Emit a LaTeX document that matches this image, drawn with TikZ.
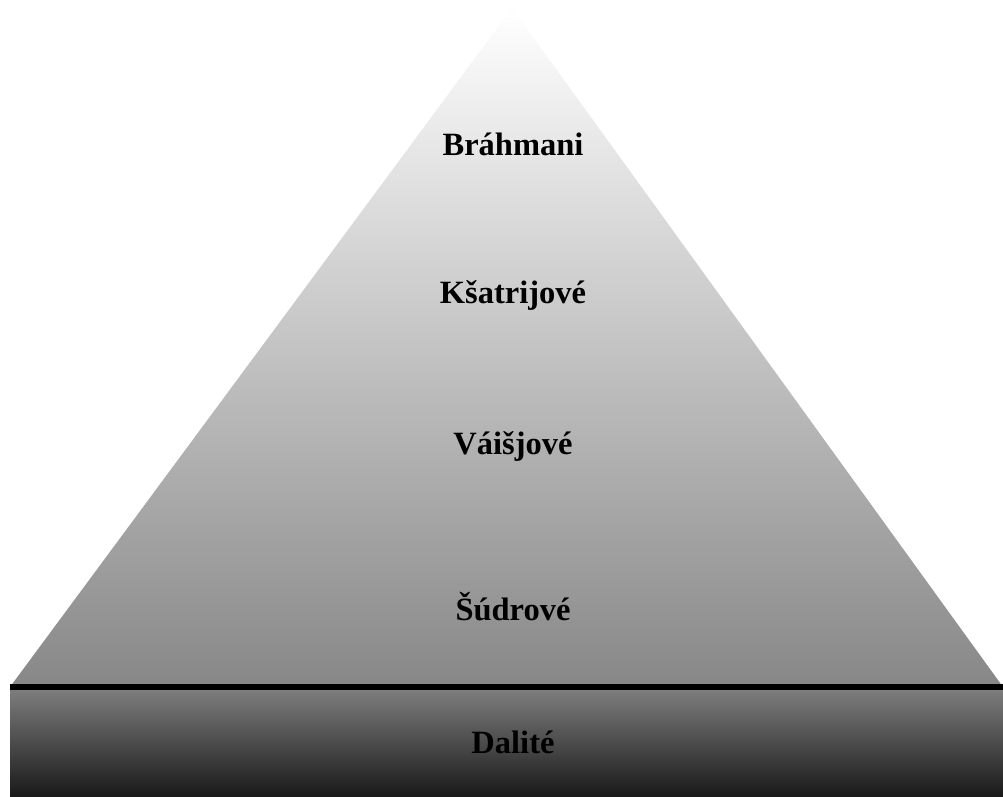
\documentclass[tikz,border=0pt]{standalone}
\usepackage{fontspec}
\setmainfont{Liberation Serif}
\begin{document}
\begin{tikzpicture}[x=1pt,y=-1pt,
  caste/.style={font=\fontsize{32.5}{38}\selectfont\bfseries, text=black, inner sep=0pt}]
\useasboundingbox (0,0) rectangle (1003,796);
% pyramid of the four varnas
\shade[top color=white, bottom color=black!47] (512,8) -- (1003,687) -- (10,687) -- cycle;
% base block
\shade[top color=black!50, bottom color=black!90] (10,687) rectangle (1003,796);
% dividing line
\coordinate (lineL) at (10,687);
\coordinate (lineR) at (1003,687);
\draw[line width=6pt] (lineL) -- (lineR);
\node[caste] (brahmani) at (513,144) {Bráhmani};
\node[caste] (ksatrijove) at (513,295) {Kšatrijové};
\node[caste] (vaisjove) at (513,446) {Váišjové};
\node[caste] (sudrove) at (513,607) {Šúdrové};
\node[caste] (dalite) at (513,742) {Dalité};
\end{tikzpicture}
\end{document}
